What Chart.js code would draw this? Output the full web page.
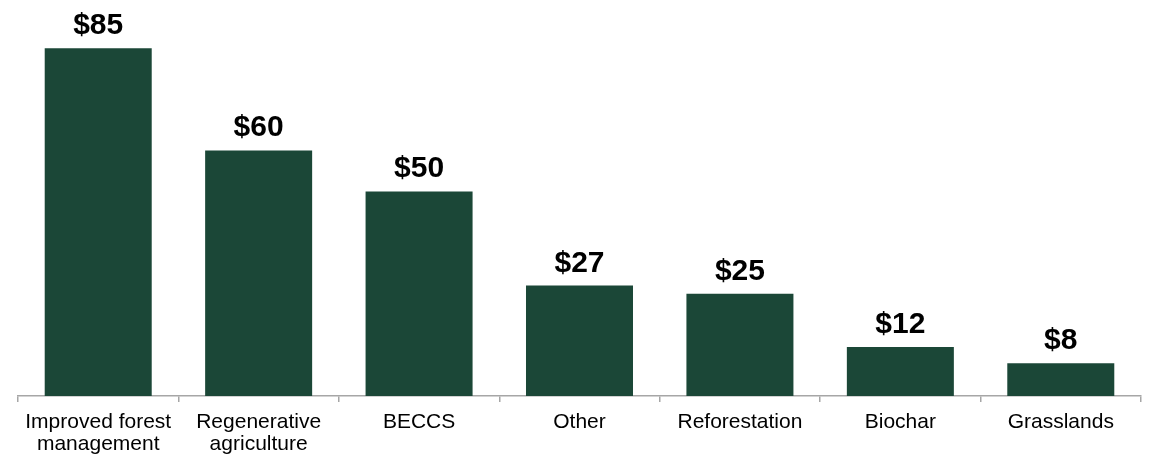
<!DOCTYPE html>
<html>
<head>
<meta charset="utf-8">
<script src="https://cdn.jsdelivr.net/npm/chart.js@4/dist/chart.umd.min.js"></script>
<style>
  html, body { margin: 0; padding: 0; background: #fff; }
  #wrap { width: 1153px; height: 456px; position: relative; }
</style>
</head>
<body>
<div id="wrap"><canvas id="myChart"></canvas></div>
<script>
// values
var categorias = [
  ['Improved forest', 'management'],
  ['Regenerative', 'agriculture'],
  'BECCS',
  'Other',
  'Reforestation',
  'Biochar',
  'Grasslands'
];
var valores = [85, 60, 50, 27, 25, 12, 8];
var etiquetas = ['$85', '$60', '$50', '$27', '$25', '$12', '$8'];

const verde = '#1b4737';

// dibuja los "$xx" encima de cada barra
const etiquetasPlugin = {
  id: 'etiquetas',
  afterDatasetsDraw: (chart) => {
    let ctx = chart.ctx;
    let meta = chart.getDatasetMeta(0);
    ctx.save();
    ctx.font = 'bold 30px "Liberation Sans", Arial, sans-serif';
    ctx.fillStyle = '#000';
    ctx.textAlign = 'center';
    ctx.textBaseline = 'alphabetic';
    meta.data.forEach((bar, i) => {
      ctx.fillText(etiquetas[i], bar.x, bar.y - 14);
    });
    ctx.restore();
  }
};

window.addEventListener('DOMContentLoaded', (event) => {
  let info = {
    labels: categorias,
    datasets: [{
      label: 'Precio',
      backgroundColor: verde,
      borderWidth: 0,
      data: valores,
      barPercentage: 0.667,
      categoryPercentage: 1.0
    }]
  };

  let config = {
    type: 'bar',
    data: info,
    options: {
      responsive: true,
      maintainAspectRatio: false,
      animation: false,
      layout: { padding: { top: 40, left: 18, right: 12, bottom: 0 } },
      plugins: {
        legend: { display: false },
        tooltip: { enabled: false }
      },
      scales: {
        y: {
          display: false,
          min: 0,
          max: 87
        },
        x: {
          offset: true,
          afterFit: (s) => { s.height = 60; },
          grid: {
            offset: true,
            drawOnChartArea: false,
            drawTicks: true,
            tickLength: 6,
            color: '#a6a6a6',
            lineWidth: 1.5
          },
          border: { display: true, color: '#a6a6a6', width: 1.5 },
          ticks: {
            color: '#000',
            padding: 9,
            maxRotation: 0,
            autoSkip: false,
            font: { family: '"Liberation Sans", Arial, sans-serif', size: 21, lineHeight: 1.05 }
          }
        }
      }
    },
    plugins: [etiquetasPlugin]
  };

  new Chart(document.getElementById('myChart'), config);
});
</script>
</body>
</html>
